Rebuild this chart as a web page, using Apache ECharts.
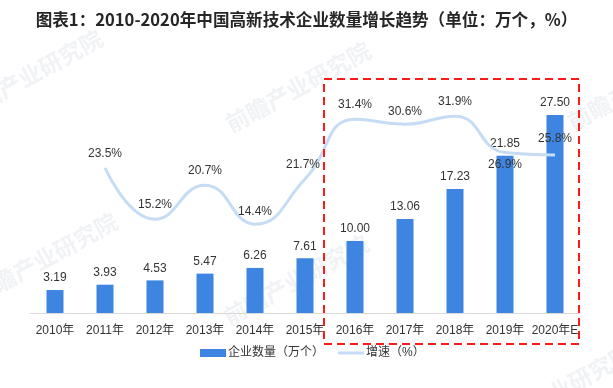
<!DOCTYPE html>
<html><head><meta charset="utf-8">
<script src="https://cdn.jsdelivr.net/npm/echarts@6/dist/echarts.min.js"></script>
<style>html,body{margin:0;padding:0;background:#fff}#c{width:613px;height:388px}</style>
</head><body><div id="c"></div>
<script>
const titleText = '图表1：2010-2020年中国高新技术企业数量增长趋势（单位：万个，%）';
const categories = ['2010年','2011年','2012年','2013年','2014年','2015年','2016年','2017年','2018年','2019年','2020年E'];
const companyCount = [3.19,3.93,4.53,5.47,6.26,7.61,10.00,13.06,17.23,21.85,27.50];
const growthRate = [null,23.5,15.2,20.7,14.4,21.7,31.4,30.6,31.9,26.9,25.8];
const growthLine = [null,23.5,15.2,20.7,14.4,21.7,31.4,30.6,31.9,26.0,25.6];
const seriesNames = ['企业数量（万个）','增速（%）'];
const watermarkText = '前瞻产业研究院';

const lineLabelOffsets = [null,[0,4],[0,4],[0,4],[0,6],[-2,4],[0,4],[0,6],[0,4],[0,31],[0,2]];

const chart = echarts.init(document.getElementById('c'), null, {renderer:'canvas'});
const font = '"Liberation Sans", "Noto Sans CJK SC", sans-serif';
const wm = (x,y) => ({type:'text',x:x,y:y,rotation:0.5,z:-1,silent:true,
  style:{text:watermarkText,fill:'#f0f2f5',font:'bold 23px "Noto Sans CJK SC", sans-serif',align:'center',verticalAlign:'middle'}});
chart.setOption({
  animation:false,
  backgroundColor:'#fff',
  title:{text:titleText,left:'center',top:6,textStyle:{fontSize:16.6,fontWeight:'bold',color:'#262626',fontFamily:'"Noto Sans CJK SC", sans-serif'}},
  legend:{bottom:24,left:195,itemGap:14,itemWidth:26,itemHeight:8,textStyle:{fontSize:12,color:'#333',fontFamily:font,padding:[0,0,0,-3]},
    data:[{name:seriesNames[0],icon:'rect'},{name:seriesNames[1],icon:'path://M0,0 L26,0 L26,3 L0,3 Z',itemStyle:{color:'#c6dcf4'}}]},
  grid:{left:30,right:33,top:97,bottom:75},
  xAxis:{type:'category',data:categories,axisLine:{lineStyle:{color:'#d9d9d9'}},axisTick:{show:false},
    axisLabel:{color:'#333',fontSize:12,fontFamily:font,margin:12,interval:0}},
  yAxis:[{type:'value',min:0,max:30,show:false,splitLine:{show:false}},
         {type:'value',min:0,max:35,show:false,splitLine:{show:false}}],
  series:[
    {name:seriesNames[0],type:'bar',data:companyCount,barWidth:17,itemStyle:{color:'#3d85e0'},z:2,
      label:{show:true,position:'top',distance:6,color:'#333',fontSize:12,fontFamily:font,formatter:p=>p.value.toFixed(2)}},
    {name:seriesNames[1],type:'line',yAxisIndex:1,smooth:0.5,symbol:'circle',symbolSize:1,showSymbol:true,z:3,
      data:growthLine.map((v,i)=>v==null?null:{value:v,label:{offset:lineLabelOffsets[i]}}),
      lineStyle:{color:'#c6dcf4',width:3},itemStyle:{color:'rgba(0,0,0,0)'},
      label:{show:true,position:'top',distance:12,color:'#333',fontSize:12,fontFamily:font,
        formatter:p=>growthRate[p.dataIndex].toFixed(1)+'%'}}
  ],
  graphic:[
    wm(30,75), wm(298,87), wm(45,258), wm(296,280), wm(640,85), wm(560,390),
    {type:'rect',shape:{x:324,y:79,width:255,height:265},style:{fill:null,stroke:'#ff1a1a',lineWidth:2,lineDash:[8,5]},z:10}
  ]
});
</script></body></html>
